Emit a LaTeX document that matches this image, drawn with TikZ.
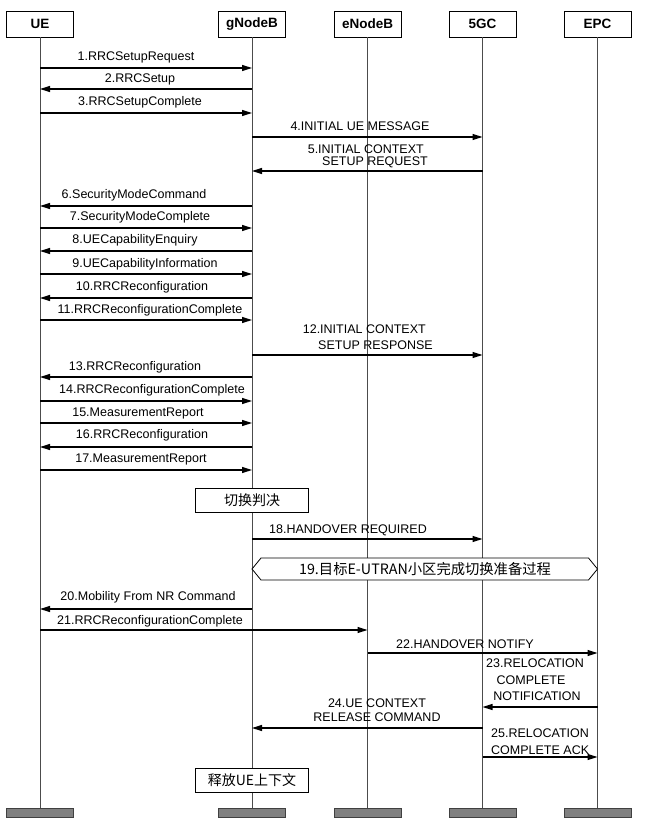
\documentclass[tikz,border=0pt]{standalone}
\usepackage{fontspec}
\setmainfont{Liberation Sans}
\newfontfamily\cjk{Noto Sans CJK SC}
\usetikzlibrary{arrows.meta,calc}
\def\xUE{40}\def\xGN{252}\def\xEN{367.5}\def\xCG{482.5}\def\xEP{597.5}
\tikzset{
  hdr/.style={draw, line width=0.8pt, minimum width=67pt, minimum height=26pt, inner sep=0pt, font=\fontsize{13.5}{15}\selectfont\bfseries},
  ftr/.style={draw=black!75, line width=0.8pt, fill=black!50, minimum width=67pt, minimum height=8.5pt, inner sep=0pt},
  life/.style={line width=0.8pt, black!70},
  msg/.style={line width=1.3pt, -{Triangle[length=10pt,width=6pt]}},
  lbl/.style={inner sep=0pt, font=\fontsize{12.5}{14}\selectfont},
  note/.style={draw, line width=0.8pt, fill=white, minimum width=113pt, minimum height=24pt, inner sep=0pt, font=\cjk\fontsize{14}{16}\selectfont}
}
\newcommand\seqmsg[4]{%
  \coordinate (s#1) at (#2,#4);
  \coordinate (e#1) at (#3,#4);
  \draw[msg] (s#1) -- (e#1);}
\begin{document}
\begin{tikzpicture}[x=1pt,y=-1pt]
\fill[white] (0,0) rectangle (653,829);
\useasboundingbox (0,0) rectangle (653,829);
% headers
\node[hdr] (hUE) at (\xUE,24) {UE};
\node[hdr] (hGN) at (\xGN,24) {gNodeB};
\node[hdr] (hEN) at (\xEN,24) {eNodeB};
\node[hdr] (hCG) at (\xCG,24) {5GC};
\node[hdr] (hEP) at (\xEP,24) {EPC};
% footers
\node[ftr] (fUE) at (\xUE,813) {};
\node[ftr] (fGN) at (\xGN,813) {};
\node[ftr] (fEN) at (\xEN,813) {};
\node[ftr] (fCG) at (\xCG,813) {};
\node[ftr] (fEP) at (\xEP,813) {};
% lifelines
\draw[life] (hUE.south) -- (fUE.north);
\draw[life] (hGN.south) -- (fGN.north);
\draw[life] (hEN.south) -- (fEN.north);
\draw[life] (hCG.south) -- (fCG.north);
\draw[life] (hEP.south) -- (fEP.north);
% messages
\seqmsg{1}{\xUE}{\xGN}{68}
\node[lbl] (l1) at (136,57) {1.RRCSetupRequest};
\seqmsg{2}{\xGN}{\xUE}{89}
\node[lbl] (l2) at (140,79) {2.RRCSetup};
\seqmsg{3}{\xUE}{\xGN}{113}
\node[lbl] (l3) at (140,102) {3.RRCSetupComplete};
\seqmsg{4}{\xGN}{\xCG}{137}
\node[lbl] (l4) at (360,126) {4.INITIAL UE MESSAGE};
\seqmsg{5}{\xCG}{\xGN}{171}
\node[lbl, anchor=east] (l5a) at (424,149) {5.INITIAL CONTEXT};
\node[lbl, anchor=east] (l5b) at (428,162) {SETUP REQUEST};
\seqmsg{6}{\xGN}{\xUE}{206}
\node[lbl] (l6) at (134,195) {6.SecurityModeCommand};
\seqmsg{7}{\xUE}{\xGN}{228}
\node[lbl] (l7) at (140,217) {7.SecurityModeComplete};
\seqmsg{8}{\xGN}{\xUE}{251}
\node[lbl] (l8) at (135,240) {8.UECapabilityEnquiry};
\seqmsg{9}{\xUE}{\xGN}{274}
\node[lbl] (l9) at (145,264) {9.UECapabilityInformation};
\seqmsg{10}{\xGN}{\xUE}{298}
\node[lbl] (l10) at (142,287) {10.RRCReconfiguration};
\seqmsg{11}{\xUE}{\xGN}{320}
\node[lbl] (l11) at (150,310) {11.RRCReconfigurationComplete};
\seqmsg{12}{\xGN}{\xCG}{355}
\node[lbl, anchor=east] (l12a) at (426,329) {12.INITIAL CONTEXT};
\node[lbl, anchor=east] (l12b) at (433,345) {SETUP RESPONSE};
\seqmsg{13}{\xGN}{\xUE}{377}
\node[lbl] (l13) at (135,367) {13.RRCReconfiguration};
\seqmsg{14}{\xUE}{\xGN}{401}
\node[lbl] (l14) at (152,390) {14.RRCReconfigurationComplete};
\seqmsg{15}{\xUE}{\xGN}{423}
\node[lbl] (l15) at (138,413) {15.MeasurementReport};
\seqmsg{16}{\xGN}{\xUE}{447}
\node[lbl] (l16) at (142,435) {16.RRCReconfiguration};
\seqmsg{17}{\xUE}{\xGN}{470}
\node[lbl] (l17) at (141,459) {17.MeasurementReport};
\node[note] (dec) at (\xGN,500.5) {切换判决};
\seqmsg{18}{\xGN}{\xCG}{539}
\node[lbl] (l18) at (348,530) {18.HANDOVER REQUIRED};
% hexagon
\coordinate (hxl) at (\xGN,569);
\coordinate (hxr) at (\xEP,569);
\draw[line width=0.8pt, fill=white] (hxl) -- ++(9,-11) -- ($(hxr)+(-9,-11)$) -- (hxr) -- ++(-9,11) -- ($(hxl)+(9,11)$) -- cycle;
\node[inner sep=0pt, font=\cjk\fontsize{14.3}{16}\selectfont] (hx) at (425,569) {19.目标E-UTRAN小区完成切换准备过程};
\seqmsg{20}{\xGN}{\xUE}{609}
\node[lbl] (l20) at (148,597) {20.Mobility From NR Command};
\seqmsg{21}{\xUE}{\xEN}{630}
\node[lbl] (l21) at (150,621) {21.RRCReconfigurationComplete};
\seqmsg{22}{\xEN}{\xEP}{653}
\node[lbl] (l22) at (465,644) {22.HANDOVER NOTIFY};
\seqmsg{23}{\xEP}{\xCG}{707}
\node[lbl] (l23a) at (535,663) {23.RELOCATION};
\node[lbl] (l23b) at (531,680) {COMPLETE};
\node[lbl] (l23c) at (537,696) {NOTIFICATION};
\seqmsg{24}{\xCG}{\xGN}{728}
\node[lbl] (l24a) at (377,703) {24.UE CONTEXT};
\node[lbl] (l24b) at (377,717) {RELEASE COMMAND};
\seqmsg{25}{\xCG}{\xEP}{757}
\node[lbl, anchor=west] (l25a) at (491,733) {25.RELOCATION};
\node[lbl, anchor=west] (l25b) at (491,750) {COMPLETE ACK};
\node[note] (rel) at (\xGN,780) {释放UE上下文};
\end{tikzpicture}
\end{document}
